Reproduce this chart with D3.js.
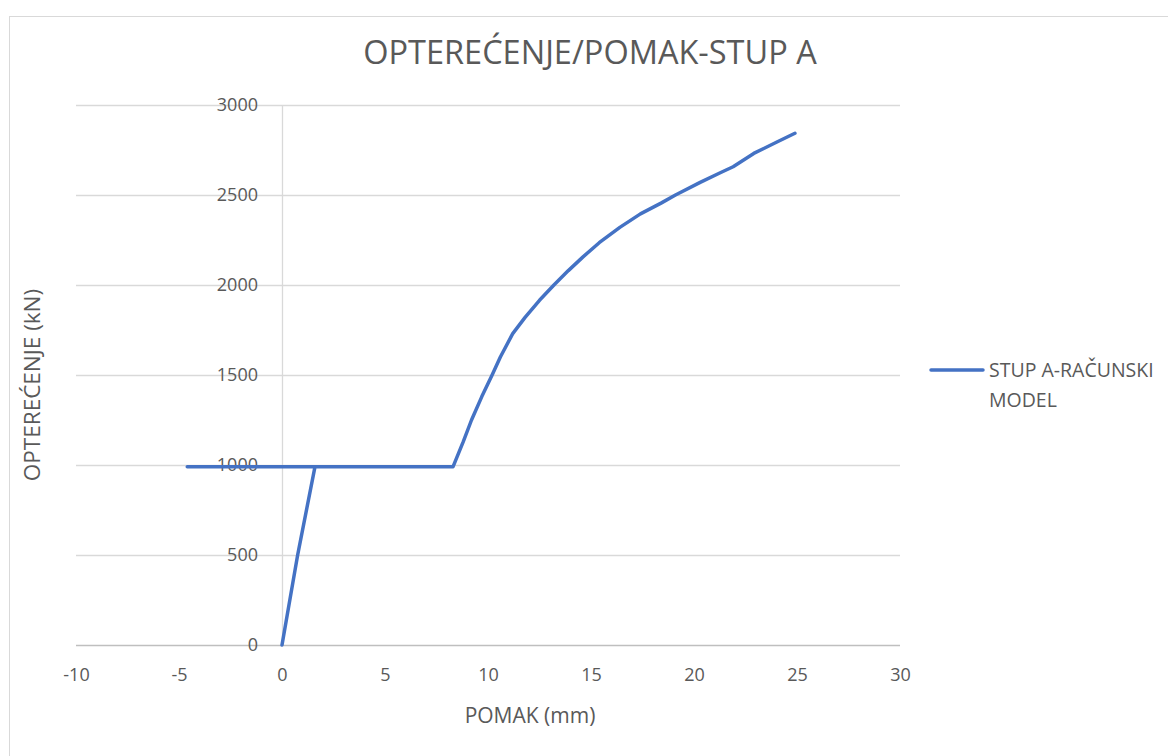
<!DOCTYPE html>
<html>
<head>
<meta charset="utf-8">
<script src="https://cdn.jsdelivr.net/npm/d3@7"></script>
<style>
  body { margin: 0; background: #fff; }
  text { font-family: "Open Sans", "Noto Sans", sans-serif; fill: #595959; }
</style>
</head>
<body>
<div id="chart"></div>
<script>
// displacement (mm) and load (kN)
var pomak = [0, 0.76, 1.6, -4.6, 8.3, 8.8, 9.2, 9.7, 10.2, 10.6, 11.2, 11.8, 12.5, 13.2, 13.9, 14.6, 15.4, 16.4, 17.4, 18.4, 19.1, 20.3, 21.3, 21.9, 22.9, 24.0, 24.9];
var opterecenje = [0, 500, 990, 990, 990, 1130, 1250, 1380, 1500, 1600, 1730, 1820, 1915, 2000, 2080, 2155, 2235, 2320, 2395, 2455, 2500, 2570, 2625, 2657, 2731, 2793, 2843];
var xTicks = [-10, -5, 0, 5, 10, 15, 20, 25, 30];
var yTicks = [0, 500, 1000, 1500, 2000, 2500, 3000];

var width = 1168, height = 756;
var margin = { left: 76, top: 105, right: 268, bottom: 111 };

var svg = d3.select("#chart").append("svg").attr("width", width).attr("height", height);

// chart frame
svg.append("rect").attr("x", 9.5).attr("y", 16.5).attr("width", 1180).attr("height", 760)
   .attr("fill", "none").attr("stroke", "#d9d9d9");

var x = d3.scaleLinear().domain([-10, 30]).range([margin.left, width - margin.right]);
var y = d3.scaleLinear().domain([0, 3000]).range([height - margin.bottom, margin.top]);

// horizontal gridlines
svg.append("g").selectAll("line").data(yTicks.slice(1)).enter().append("line")
   .attr("x1", x(-10)).attr("x2", x(30))
   .attr("y1", function(d) { return Math.round(y(d)) + 0.5; })
   .attr("y2", function(d) { return Math.round(y(d)) + 0.5; })
   .attr("stroke", "#d9d9d9").attr("stroke-width", 1.3);

// vertical axis at x = 0
svg.append("line").attr("x1", Math.round(x(0)) + 0.5).attr("x2", Math.round(x(0)) + 0.5)
   .attr("y1", y(3000)).attr("y2", y(0)).attr("stroke", "#d9d9d9").attr("stroke-width", 1.3);

// horizontal axis
svg.append("line").attr("x1", x(-10)).attr("x2", x(30))
   .attr("y1", Math.round(y(0)) + 0.5).attr("y2", Math.round(y(0)) + 0.5)
   .attr("stroke", "#bfbfbf").attr("stroke-width", 1.5);

var fmt = function(d) { return String(d); };

var xAxis = d3.axisBottom(x).tickValues(xTicks).tickFormat(fmt).tickSize(0).tickPadding(23);
var gx = svg.append("g").attr("transform", "translate(0," + y(0) + ")").call(xAxis);
gx.select(".domain").remove();
gx.selectAll("text").attr("font-size", "18px").style("fill", "#595959");

var yAxis = d3.axisLeft(y).tickValues(yTicks).tickFormat(fmt).tickSize(0).tickPadding(24);
var gy = svg.append("g").attr("transform", "translate(" + x(0) + ",0)").call(yAxis);
gy.select(".domain").remove();
gy.selectAll("text").attr("font-size", "18px").style("fill", "#595959");

// series
var pts = pomak.map(function(d, i) { return [d, opterecenje[i]]; });
var line = d3.line().x(function(d) { return x(d[0]); }).y(function(d) { return y(d[1]); });
svg.append("path").datum(pts).attr("d", line)
   .attr("fill", "none").attr("stroke", "#4472c4").attr("stroke-width", 3.5)
   .attr("stroke-linejoin", "round").attr("stroke-linecap", "round");

// titles
svg.append("text").attr("x", 590).attr("y", 64).attr("text-anchor", "middle")
   .attr("font-size", "32.5px").text("OPTEREĆENJE/POMAK-STUP A");
svg.append("text").attr("x", 530).attr("y", 723).attr("text-anchor", "middle")
   .attr("font-size", "21px").text("POMAK (mm)");
svg.append("text").attr("transform", "translate(40,385) rotate(-90)").attr("text-anchor", "middle")
   .attr("font-size", "22.5px").text("OPTEREĆENJE (kN)");

// legend
svg.append("line").attr("x1", 931).attr("x2", 983).attr("y1", 370).attr("y2", 370)
   .attr("stroke", "#4472c4").attr("stroke-width", 3.5).attr("stroke-linecap", "round");
svg.append("text").attr("x", 989).attr("y", 377).attr("font-size", "19.5px").text("STUP A-RAČUNSKI");
svg.append("text").attr("x", 989).attr("y", 407).attr("font-size", "19.5px").text("MODEL");
</script>
</body>
</html>
